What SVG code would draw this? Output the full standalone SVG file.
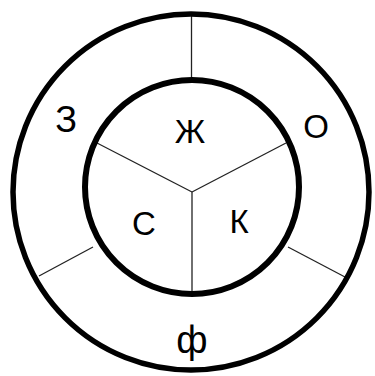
<svg xmlns="http://www.w3.org/2000/svg" width="375" height="376" viewBox="0 0 375 376">
<style>
.ring{fill:none;stroke:#000}
.t{font-family:"Liberation Sans",Arial,sans-serif;font-size:33px;fill:#000;text-anchor:middle}
.l{stroke:#222;stroke-width:1.3;fill:none}
</style>
<rect width="375" height="376" fill="#fff"/>
<g id="connectors">
<line class="l" x1="191.5" y1="12" x2="191.5" y2="78" stroke="#555" stroke-width="2"/>
<line class="l" x1="192" y1="192" x2="192" y2="294" stroke="#555" stroke-width="2"/>
<line class="l" x1="192" y1="192" x2="97" y2="143"/>
<line class="l" x1="192" y1="192" x2="286" y2="143"/>
<line class="l" x1="93" y1="247" x2="39" y2="276"/>
<line class="l" x1="288" y1="247" x2="345" y2="277"/>
</g>
<g id="outer"><circle class="ring" cx="191" cy="192" r="178" stroke-width="5.5"/></g>
<g id="inner"><circle class="ring" cx="192" cy="187" r="107" stroke-width="6"/></g>
<g id="n-z"><text class="t" x="66" y="132" style="font-size:36px">З</text></g>
<g id="n-zh"><text class="t" x="190" y="143">Ж</text></g>
<g id="n-o"><text class="t" x="316" y="138">О</text></g>
<g id="n-s"><text class="t" x="144" y="235">С</text></g>
<g id="n-k"><text class="t" x="239" y="233">К</text></g>
<g id="n-f"><text class="t" x="192" y="353" style="font-size:38px">ф</text></g>
</svg>
